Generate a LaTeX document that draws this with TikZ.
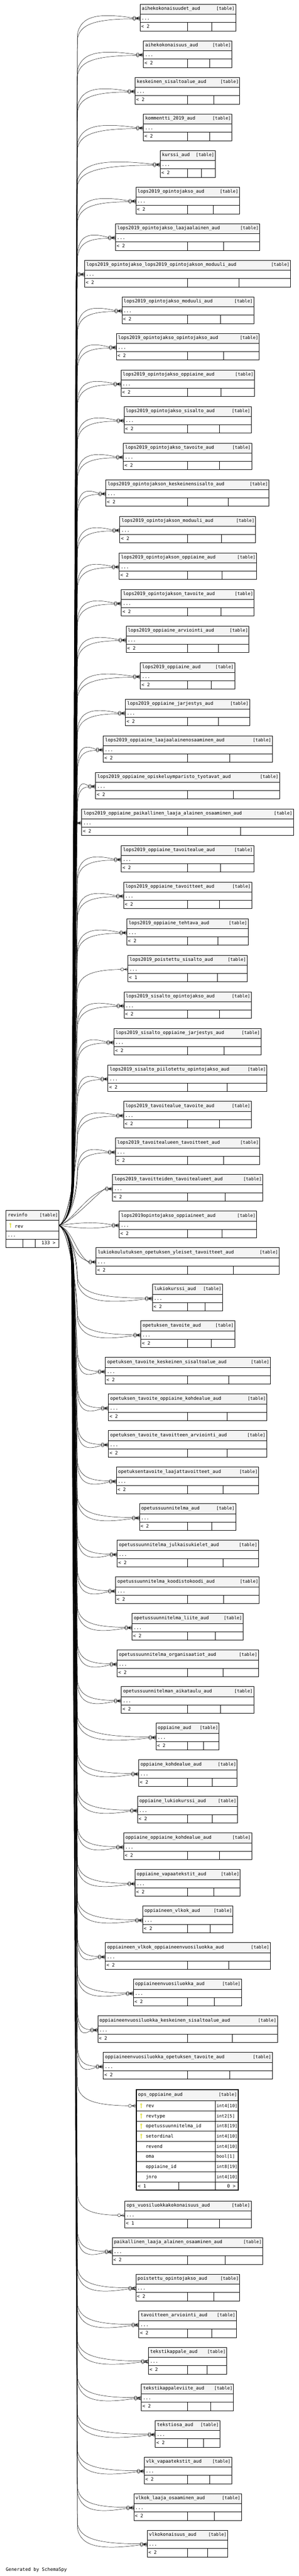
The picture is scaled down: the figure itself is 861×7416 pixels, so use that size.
\documentclass[tikz,border=0pt]{standalone}
\usepackage{fontspec}
\newfontfamily\monof{DejaVu Sans Mono}
\usetikzlibrary{calc}
\definecolor{hdr}{RGB}{244,244,244}
\definecolor{keyc}{RGB}{212,212,0}
\newcommand\namefont{\monof\fontsize{13.3}{15}\selectfont}
\newcommand\smallfont{\monof\fontsize{12.5}{15}\selectfont}
\tikzset{
  tline/.style={line width=1.2pt},
  conn/.style={line width=0.7pt},
  tname/.style={inner sep=0pt, font=\namefont},
  tsmall/.style={inner sep=0pt, font=\smallfont},
  tbox/.style={fill=white, inner sep=0pt, outer sep=0pt},
  crowodot/.pic={
    \draw[conn] (-16.5,0) circle[radius=4.3];
    \draw[conn] (-12.2,0) -- (0,0);
    \draw[conn] (-11,0) -- (0,-4.5);
    \draw[conn] (-11,0) -- (0,4.5);
  },
  pkey/.pic={
    \fill[keyc] (0,-4.5) circle[radius=2.8];
    \fill[white] (0,-4.5) circle[radius=1.1];
    \fill[keyc] (-0.9,-2.2) rectangle (0.9,7);
  },
}
% connector from revinfo.rev to a child table: #1 coord name, #2 row centre y, #3 table left x, #4 variant o/i/s
\newcommand\relink[4]{%
  \pgfmathsetmacro\rD{#2-3528}%
  \pgfmathsetmacro\rS{(\rD<0)?-1:1}%
  \pgfmathsetmacro\rA{abs(\rD)}%
  \if#4o\def\rK{1}\def\rL{46}\def\rCo{6}\def\rOv{17}\def\rCf{0.06}\def\rCg{0.35}\def\rDx{1.5}\fi
  \if#4i\def\rK{-1}\def\rL{60}\def\rCo{-18}\def\rOv{-2}\def\rCf{0.04}\def\rCg{0.3}\def\rDx{0}\fi
  \if#4s\def\rK{0}\def\rL{60}\def\rCo{-18}\def\rOv{-2}\def\rCf{0.04}\def\rCg{0.3}\def\rDx{0.7}\fi
  \pgfmathsetmacro\rYE{#2+\rS*\rK*1.5}%
  \pgfmathsetmacro\rXE{#3-21}%
  \pgfmathsetmacro\rXB{min(223,\rXE-4)}%
  \pgfmathsetmacro\rW{\rXE-\rXB}%
  \pgfmathsetmacro\rYB{#2-\rS*\rL}%
  \pgfmathsetmacro\rXa{\rXB+\rCf*\rW}%
  \pgfmathsetmacro\rYa{#2+\rS*\rCo}%
  \pgfmathsetmacro\rXb{\rXB+\rCg*\rW}%
  \pgfmathsetmacro\rYb{#2+\rS*\rOv}%
  \pgfmathsetmacro\rXV{206+7*(1-\rA/3800)+\rDx}%
  \pgfmathsetmacro\rYs{3528+\rS*15}%
  \coordinate (#1) at (\rXE,\rYE);
  \ifdim\rA pt<50pt
    \pgfmathsetmacro\rYm{3528+\rS*\rK*10}%
    \draw[conn] (rv-out) .. controls (235,\rYm) and (285,\rYm) .. (#1);
  \else\ifdim\rA pt<200pt
    \pgfmathsetmacro\rXc{\rXE-50+\rK*8}%
    \pgfmathsetmacro\rYc{#2-\rS*(25+\rK*6)}%
    \draw[conn] (rv-out) .. controls (212,\rYs) and (\rXc,\rYc) .. (#1);
  \else\ifdim\rA pt<400pt
    \pgfmathsetmacro\rYq{\rYB-\rS*70}%
    \draw[conn] (rv-out) .. controls (200,\rYs) and (\rXB,\rYq) .. (\rXB,\rYB)
       .. controls (\rXa,\rYa) and (\rXb,\rYb) .. (#1);
  \else
    \pgfmathsetmacro\rYt{3528+\rS*60}%
    \pgfmathsetmacro\rYu{3528+\rS*150}%
    \draw[conn] (rv-out) .. controls (196,\rYs) and (\rXV,\rYt) .. (\rXV,\rYu) -- (\rXB,\rYB)
       .. controls (\rXa,\rYa) and (\rXb,\rYb) .. (#1);
  \fi\fi\fi
  \pic at (#3,\rYE) {crowodot};
}
% table: [#1] number of links, #2 id, #3 index, #4 left, #5 right, #6 name
\newcommand\tbl[6][2]{%
  \pgfmathsetmacro\tTop{11.9+(#3-1)*105.3+((#3>58)?217:0)}%
  \pgfmathsetmacro\tYc{\tTop+41}%
  \pgfmathsetmacro\tMid{(540+#5)/2}%
  \pgfmathsetmacro\tW{#5-#4}%
  \ifnum#1=2
    \relink{#2-a}{\tYc}{#4}{o}%
    \relink{#2-b}{\tYc}{#4}{i}%
  \else
    \relink{#2-a}{\tYc}{#4}{s}%
  \fi
  \node[tbox, minimum width=\tW pt, minimum height=77pt, anchor=north west] (#2) at (#4,\tTop) {};
  \fill[hdr] (#4,\tTop) rectangle (#5,\tTop+29);
  \draw[tline] (#4,\tTop+29) -- (#5,\tTop+29) (#4,\tTop+53) -- (#5,\tTop+53)
     (540,\tTop+53) -- (540,\tTop+77) (\tMid,\tTop+53) -- (\tMid,\tTop+77);
  \draw[tline] (#2.north west) rectangle (#2.south east);
  \node[tname, anchor=base west] (#2-n) at (#4+5,\tTop+17.5) {#6};
  \node[tsmall, anchor=base east] (#2-k) at (#5-3,\tTop+17.5) {[table]};
  \node[tname, anchor=base west] (#2-d) at (#4+4,\tTop+45) {...};
  \node[tname, anchor=base west] (#2-c) at (#4+3,\tTop+69) {< #1};
}
\begin{document}
\begin{tikzpicture}[x=1pt,y=-1pt]
\fill[white] (0,0) rectangle (861,7416);
\useasboundingbox (0,0) rectangle (861,7416);
\coordinate (rv-out) at (170,3528);

\tbl{t1}{1}{403.6}{679.2}{aihekokonaisuudet\_aud}
\tbl{t2}{2}{413.5}{668.3}{aihekokonaisuus\_aud}
\tbl{t3}{3}{389.3}{690.8}{keskeinen\_sisaltoalue\_aud}
\tbl{t4}{4}{413.5}{668.3}{kommentti\_2019\_aud}
\tbl{t5}{5}{461.8}{620.5}{kurssi\_aud}
\tbl{t6}{6}{391.5}{689.7}{lops2019\_opintojakso\_aud}
\tbl{t7}{7}{332.8}{748.4}{lops2019\_opintojakso\_laajaalainen\_aud}
\tbl{t8}{8}{243.8}{837.4}{lops2019\_opintojakso\_lops2019\_opintojakson\_moduuli\_aud}
\tbl{t9}{9}{351.4}{731.4}{lops2019\_opintojakso\_moduuli\_aud}
\tbl{t10}{10}{335.5}{747.3}{lops2019\_opintojakso\_opintojakso\_aud}
\tbl{t11}{11}{348.7}{733.6}{lops2019\_opintojakso\_oppiaine\_aud}
\tbl{t12}{12}{357.5}{724.3}{lops2019\_opintojakso\_sisalto\_aud}
\tbl{t13}{13}{355.8}{725.4}{lops2019\_opintojakso\_tavoite\_aud}
\tbl{t14}{14}{305.3}{775.3}{lops2019\_opintojakson\_keskeinensisalto\_aud}
\tbl{t15}{15}{345.4}{736.4}{lops2019\_opintojakson\_moduuli\_aud}
\tbl{t16}{16}{343.7}{739.6}{lops2019\_opintojakson\_oppiaine\_aud}
\tbl{t17}{17}{349.8}{732.5}{lops2019\_opintojakson\_tavoite\_aud}
\tbl{t18}{18}{363.5}{717.7}{lops2019\_oppiaine\_arviointi\_aud}
\tbl{t19}{19}{404.7}{676.5}{lops2019\_oppiaine\_aud}
\tbl{t20}{20}{361.3}{719.3}{lops2019\_oppiaine\_jarjestys\_aud}
\tbl{t21}{21}{297.6}{784.7}{lops2019\_oppiaine\_laajaalainenosaaminen\_aud}
\tbl{t22}{22}{275.7}{805.5}{lops2019\_oppiaine\_opiskeluymparisto\_tyotavat\_aud}
\tbl{t23}{23}{235.6}{845.6}{lops2019\_oppiaine\_paikallinen\_laaja\_alainen\_osaaminen\_aud}
\tbl{t24}{24}{349.8}{731.4}{lops2019\_oppiaine\_tavoitealue\_aud}
\tbl{t25}{25}{356.4}{725.4}{lops2019\_oppiaine\_tavoitteet\_aud}
\tbl{t26}{26}{365.7}{715.5}{lops2019\_oppiaine\_tehtava\_aud}
\tbl[1]{t27}{27}{368.5}{712.2}{lops2019\_poistettu\_sisalto\_aud}
\tbl{t28}{28}{357.5}{724.3}{lops2019\_sisalto\_opintojakso\_aud}
\tbl{t29}{29}{328.4}{752.3}{lops2019\_sisalto\_oppiaine\_jarjestys\_aud}
\tbl{t30}{30}{311.3}{769.3}{lops2019\_sisalto\_piilotettu\_opintojakso\_aud}
\tbl{t31}{31}{356.4}{724.3}{lops2019\_tavoitealue\_tavoite\_aud}
\tbl{t32}{32}{332.8}{748.4}{lops2019\_tavoitealueen\_tavoitteet\_aud}
\tbl{t33}{33}{324.5}{757.2}{lops2019\_tavoitteiden\_tavoitealueet\_aud}
\tbl{t34}{34}{343.7}{739.6}{lops2019opintojakso\_oppiaineet\_aud}
\tbl{t35}{35}{276.8}{804.4}{lukiokoulutuksen\_opetuksen\_yleiset\_tavoitteet\_aud}
\tbl{t36}{36}{439.3}{641.4}{lukiokurssi\_aud}
\tbl{t37}{37}{405.8}{676.5}{opetuksen\_tavoite\_aud}
\tbl{t38}{38}{303.7}{779.2}{opetuksen\_tavoite\_keskeinen\_sisaltoalue\_aud}
\tbl{t39}{39}{312.4}{769.3}{opetuksen\_tavoite\_oppiaine\_kohdealue\_aud}
\tbl{t40}{40}{312.4}{768.2}{opetuksen\_tavoite\_tavoitteen\_arviointi\_aud}
\tbl{t41}{41}{335.5}{745.7}{opetuksentavoite\_laajattavoitteet\_aud}
\tbl{t42}{42}{402.0}{679.2}{opetussuunnitelma\_aud}
\tbl{t43}{43}{337.7}{744.6}{opetussuunnitelma\_julkaisukielet\_aud}
\tbl{t44}{44}{333.3}{747.3}{opetussuunnitelma\_koodistokoodi\_aud}
\tbl{t45}{45}{380.5}{700.7}{opetussuunnitelma\_liite\_aud}
\tbl{t46}{46}{337.7}{744.6}{opetussuunnitelma\_organisaatiot\_aud}
\tbl{t47}{47}{349.8}{731.4}{opetussuunnitelman\_aikataulu\_aud}
\tbl{t48}{48}{449.7}{631.5}{oppiaine\_aud}
\tbl{t49}{49}{399.8}{683.6}{oppiaine\_kohdealue\_aud}
\tbl{t50}{50}{396.5}{684.2}{oppiaine\_lukiokurssi\_aud}
\tbl{t51}{51}{356.4}{725.4}{oppiaine\_oppiaine\_kohdealue\_aud}
\tbl{t52}{52}{389.3}{692.4}{oppiaine\_vapaatekstit\_aud}
\tbl{t53}{53}{411.3}{671.6}{oppiaineen\_vlkok\_aud}
\tbl{t54}{54}{303.7}{779.2}{oppiaineen\_vlkok\_oppiaineenvuosiluokka\_aud}
\tbl{t55}{55}{384.4}{696.3}{oppiaineenvuosiluokka\_aud}
\tbl{t56}{56}{281.7}{799.5}{oppiaineenvuosiluokka\_keskeinen\_sisaltoalue\_aud}
\tbl{t57}{57}{297.6}{784.7}{oppiaineenvuosiluokka\_opetuksen\_tavoite\_aud}
\tbl[1]{t59}{59}{359.7}{723.7}{ops\_vuosiluokkakokonaisuus\_aud}
\tbl{t60}{60}{323.4}{757.2}{paikallinen\_laaja\_alainen\_osaaminen\_aud}
\tbl{t61}{61}{391.5}{690.8}{poistettu\_opintojakso\_aud}
\tbl{t62}{62}{400.3}{681.4}{tavoitteen\_arviointi\_aud}
\tbl{t63}{63}{427.8}{653.4}{tekstikappale\_aud}
\tbl{t64}{64}{407.4}{673.2}{tekstikappaleviite\_aud}
\tbl{t65}{65}{447.5}{633.7}{tekstiosa\_aud}
\tbl{t66}{66}{415.7}{667.7}{vlk\_vapaatekstit\_aud}
\tbl{t67}{67}{385.5}{695.7}{vlkok\_laaja\_osaaminen\_aud}
\tbl{t68}{68}{424.5}{656.2}{vlkokonaisuus\_aud}

% ops_oppiaine_aud (expanded table)
\relink{t58-a}{6062.4}{391}{s}
\node[tbox, minimum width=294pt, minimum height=288.8pt, anchor=north west] (t58) at (392.5,6016.5) {};
\fill[hdr] (392.5,6016.5) rectangle (686.5,6047.8);
\foreach \k in {0,...,8} \draw[tline] (392.5,{6047.8+\k*29.21}) -- (686.5,{6047.8+\k*29.21});
\draw[tline] (620.5,6047.8) -- (620.5,6305.3) (515,6281.5) -- (515,6305.3);
\draw[line width=3pt] (t58.north west) rectangle (t58.south east);
\node[tname, anchor=base west] (t58-n) at (398,6035) {ops\_oppiaine\_aud};
\node[tsmall, anchor=base east] (t58-k) at (683,6035) {[table]};
\foreach \nm/\ty/\kk [count=\i from 0] in {rev/int4[10]/1, revtype/int2[5]/1, opetussuunnitelma\_id/int8[19]/1, setordinal/int4[10]/1, revend/int4[10]/0, oma/bool[1]/0, oppiaine\_id/int8[19]/0, jnro/int4[10]/0}{
  \node[tname, anchor=base west] (t58-r\i) at (420,{6047.8+\i*29.21+19}) {\nm};
  \node[tsmall, anchor=base west] (t58-t\i) at (624,{6047.8+\i*29.21+19}) {\ty};
  \ifnum\kk=1 \pic at (407,{6047.8+\i*29.21+14.6}) {pkey}; \fi
}
\node[tname, anchor=base west] (t58-c) at (397,6299) {< 1};
\node[tname, anchor=base east] (t58-p) at (679,6299) {0 >};

% revinfo
\node[tbox, minimum width=152.4pt, minimum height=107.2pt, anchor=north west] (rv) at (17.6,3484.3) {};
\fill[hdr] (17.6,3484.3) rectangle (170,3513.2);
\draw[tline] (17.6,3513.2) -- (170,3513.2) (17.6,3543.2) -- (170,3543.2) (17.6,3567.8) -- (170,3567.8)
   (66.4,3567.8) -- (66.4,3591.5) (101.6,3567.8) -- (101.6,3591.5);
\draw[tline] (rv.north west) rectangle (rv.south east);
\node[tname, anchor=base west] (rv-n) at (22.6,3501.8) {revinfo};
\node[tsmall, anchor=base east] (rv-k) at (167,3501.8) {[table]};
\pic at (30,3528) {pkey};
\node[tname, anchor=base west] (rv-r) at (42.8,3534.5) {rev};
\node[tname, anchor=base west] (rv-d) at (21.5,3560) {...};
\node[tname, anchor=base east] (rv-c) at (160,3583) {133 >};

\node[tname, anchor=base west] (gen) at (16.5,7402) {Generated by SchemaSpy};
\end{tikzpicture}
\end{document}
